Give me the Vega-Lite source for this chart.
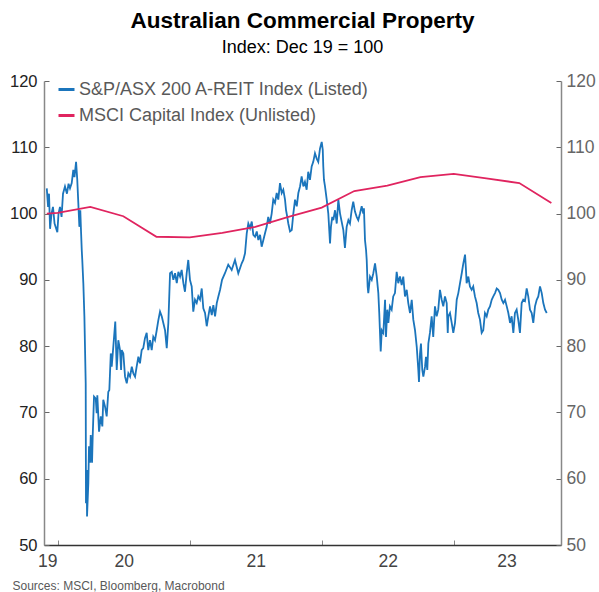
{
  "$schema": "https://vega.github.io/schema/vega-lite/v6.json",
  "width": 517,
  "height": 464,
  "autosize": {"type": "none"},
  "padding": {"left": 44, "top": 81, "right": 38, "bottom": 47},
  "config": {"font": "Liberation Sans", "view": {"stroke": null}},
  "title": {
    "text": "Australian Commercial Property",
    "subtitle": "Index: Dec 19 = 100",
    "fontSize": 22.5,
    "fontWeight": "bold",
    "color": "#000000",
    "subtitleFontSize": 18,
    "subtitleColor": "#000000",
    "subtitlePadding": 7,
    "anchor": "middle",
    "offset": 15
  },
  "datasets": {
    "listed": [
      {"t":2019.917,"v":103.8},{"t":2019.927,"v":101.0},{"t":2019.934,"v":103.0},{"t":2019.942,"v":97.7},{"t":2019.953,"v":100.0},{"t":2019.964,"v":101.0},{"t":2019.976,"v":98.5},{"t":2019.997,"v":97.2},{"t":2020.006,"v":100.0},{"t":2020.017,"v":101.0},{"t":2020.029,"v":99.5},{"t":2020.040,"v":103.0},{"t":2020.055,"v":104.1},{"t":2020.070,"v":103.0},{"t":2020.082,"v":104.5},{"t":2020.093,"v":103.8},{"t":2020.106,"v":104.6},{"t":2020.118,"v":106.6},{"t":2020.127,"v":105.5},{"t":2020.139,"v":107.8},{"t":2020.148,"v":105.1},{"t":2020.156,"v":101.6},{"t":2020.164,"v":98.0},{"t":2020.171,"v":100.5},{"t":2020.177,"v":97.1},{"t":2020.182,"v":94.5},{"t":2020.186,"v":93.0},{"t":2020.194,"v":89.5},{"t":2020.202,"v":84.5},{"t":2020.212,"v":74.4},{"t":2020.214,"v":56.3},{"t":2020.220,"v":61.3},{"t":2020.222,"v":54.3},{"t":2020.232,"v":59.4},{"t":2020.237,"v":64.9},{"t":2020.245,"v":62.4},{"t":2020.250,"v":66.6},{"t":2020.260,"v":62.4},{"t":2020.265,"v":66.4},{"t":2020.275,"v":72.4},{"t":2020.288,"v":72.1},{"t":2020.295,"v":69.9},{"t":2020.300,"v":72.6},{"t":2020.313,"v":67.1},{"t":2020.326,"v":69.4},{"t":2020.338,"v":67.9},{"t":2020.345,"v":71.9},{"t":2020.358,"v":70.9},{"t":2020.371,"v":69.4},{"t":2020.383,"v":73.1},{"t":2020.391,"v":73.4},{"t":2020.402,"v":78.9},{"t":2020.409,"v":76.9},{"t":2020.421,"v":79.9},{"t":2020.436,"v":83.7},{"t":2020.447,"v":76.4},{"t":2020.459,"v":80.9},{"t":2020.472,"v":79.4},{"t":2020.480,"v":76.4},{"t":2020.485,"v":79.4},{"t":2020.497,"v":78.9},{"t":2020.510,"v":75.4},{"t":2020.523,"v":74.4},{"t":2020.535,"v":75.9},{"t":2020.548,"v":75.4},{"t":2020.561,"v":76.9},{"t":2020.573,"v":75.9},{"t":2020.586,"v":75.4},{"t":2020.598,"v":76.9},{"t":2020.611,"v":78.4},{"t":2020.623,"v":77.4},{"t":2020.636,"v":79.4},{"t":2020.648,"v":79.7},{"t":2020.661,"v":81.2},{"t":2020.674,"v":82.0},{"t":2020.686,"v":79.4},{"t":2020.699,"v":80.9},{"t":2020.712,"v":79.4},{"t":2020.724,"v":81.4},{"t":2020.737,"v":80.9},{"t":2020.750,"v":82.4},{"t":2020.762,"v":83.9},{"t":2020.775,"v":85.2},{"t":2020.788,"v":84.5},{"t":2020.800,"v":83.5},{"t":2020.813,"v":82.4},{"t":2020.826,"v":79.7},{"t":2020.838,"v":83.5},{"t":2020.851,"v":91.0},{"t":2020.864,"v":91.2},{"t":2020.876,"v":90.0},{"t":2020.889,"v":91.0},{"t":2020.902,"v":89.5},{"t":2020.914,"v":91.2},{"t":2020.927,"v":90.5},{"t":2020.939,"v":91.5},{"t":2020.952,"v":89.5},{"t":2020.964,"v":88.2},{"t":2020.977,"v":91.0},{"t":2020.989,"v":93.0},{"t":2021.002,"v":90.0},{"t":2021.015,"v":89.0},{"t":2021.027,"v":85.2},{"t":2021.040,"v":87.0},{"t":2021.053,"v":86.5},{"t":2021.065,"v":87.5},{"t":2021.078,"v":87.0},{"t":2021.091,"v":88.7},{"t":2021.103,"v":85.7},{"t":2021.116,"v":85.0},{"t":2021.129,"v":83.0},{"t":2021.141,"v":84.5},{"t":2021.154,"v":86.0},{"t":2021.167,"v":84.7},{"t":2021.179,"v":86.2},{"t":2021.192,"v":84.5},{"t":2021.205,"v":86.5},{"t":2021.217,"v":87.5},{"t":2021.230,"v":88.5},{"t":2021.245,"v":90.0},{"t":2021.267,"v":91.0},{"t":2021.292,"v":92.3},{"t":2021.318,"v":91.5},{"t":2021.343,"v":93.0},{"t":2021.368,"v":91.0},{"t":2021.394,"v":92.5},{"t":2021.406,"v":93.0},{"t":2021.419,"v":94.0},{"t":2021.432,"v":97.0},{"t":2021.444,"v":98.5},{"t":2021.457,"v":97.8},{"t":2021.470,"v":98.8},{"t":2021.482,"v":96.8},{"t":2021.495,"v":96.5},{"t":2021.508,"v":97.3},{"t":2021.520,"v":96.0},{"t":2021.533,"v":96.8},{"t":2021.545,"v":95.0},{"t":2021.558,"v":96.0},{"t":2021.570,"v":97.0},{"t":2021.583,"v":98.0},{"t":2021.595,"v":99.5},{"t":2021.608,"v":98.5},{"t":2021.621,"v":100.0},{"t":2021.633,"v":102.1},{"t":2021.646,"v":101.6},{"t":2021.659,"v":103.1},{"t":2021.671,"v":102.1},{"t":2021.684,"v":104.6},{"t":2021.697,"v":103.1},{"t":2021.709,"v":103.6},{"t":2021.722,"v":102.1},{"t":2021.730,"v":100.5},{"t":2021.739,"v":99.5},{"t":2021.747,"v":98.5},{"t":2021.760,"v":97.3},{"t":2021.773,"v":97.5},{"t":2021.785,"v":100.0},{"t":2021.798,"v":102.1},{"t":2021.811,"v":101.1},{"t":2021.823,"v":103.1},{"t":2021.836,"v":104.1},{"t":2021.848,"v":105.6},{"t":2021.861,"v":104.1},{"t":2021.873,"v":104.8},{"t":2021.886,"v":103.6},{"t":2021.898,"v":106.3},{"t":2021.911,"v":105.1},{"t":2021.924,"v":107.1},{"t":2021.936,"v":107.8},{"t":2021.949,"v":109.1},{"t":2021.962,"v":108.3},{"t":2021.974,"v":107.8},{"t":2021.987,"v":109.8},{"t":2022.000,"v":110.8},{"t":2022.008,"v":109.6},{"t":2022.012,"v":107.1},{"t":2022.017,"v":105.1},{"t":2022.025,"v":104.1},{"t":2022.038,"v":102.1},{"t":2022.050,"v":100.0},{"t":2022.063,"v":95.5},{"t":2022.070,"v":98.0},{"t":2022.080,"v":99.5},{"t":2022.088,"v":99.0},{"t":2022.101,"v":100.5},{"t":2022.114,"v":98.5},{"t":2022.126,"v":102.1},{"t":2022.139,"v":100.0},{"t":2022.164,"v":97.5},{"t":2022.176,"v":94.8},{"t":2022.189,"v":98.0},{"t":2022.202,"v":99.0},{"t":2022.214,"v":98.5},{"t":2022.227,"v":100.5},{"t":2022.239,"v":101.8},{"t":2022.252,"v":100.3},{"t":2022.265,"v":99.5},{"t":2022.277,"v":99.0},{"t":2022.290,"v":100.0},{"t":2022.303,"v":101.1},{"t":2022.315,"v":100.0},{"t":2022.320,"v":100.8},{"t":2022.328,"v":96.0},{"t":2022.336,"v":94.5},{"t":2022.341,"v":93.0},{"t":2022.348,"v":89.0},{"t":2022.353,"v":88.0},{"t":2022.366,"v":90.5},{"t":2022.379,"v":90.0},{"t":2022.391,"v":91.0},{"t":2022.404,"v":92.5},{"t":2022.417,"v":90.5},{"t":2022.429,"v":88.0},{"t":2022.436,"v":85.0},{"t":2022.447,"v":79.2},{"t":2022.455,"v":82.4},{"t":2022.467,"v":82.0},{"t":2022.480,"v":87.0},{"t":2022.487,"v":81.4},{"t":2022.497,"v":85.5},{"t":2022.505,"v":83.5},{"t":2022.517,"v":86.0},{"t":2022.530,"v":85.5},{"t":2022.542,"v":87.5},{"t":2022.555,"v":88.0},{"t":2022.568,"v":91.2},{"t":2022.580,"v":89.5},{"t":2022.593,"v":90.5},{"t":2022.606,"v":89.2},{"t":2022.618,"v":90.5},{"t":2022.631,"v":87.5},{"t":2022.644,"v":88.5},{"t":2022.656,"v":86.5},{"t":2022.669,"v":85.0},{"t":2022.682,"v":87.0},{"t":2022.694,"v":84.0},{"t":2022.707,"v":82.4},{"t":2022.720,"v":79.9},{"t":2022.732,"v":76.4},{"t":2022.737,"v":74.6},{"t":2022.745,"v":78.9},{"t":2022.752,"v":80.4},{"t":2022.762,"v":76.4},{"t":2022.770,"v":75.4},{"t":2022.783,"v":76.9},{"t":2022.790,"v":78.4},{"t":2022.800,"v":76.4},{"t":2022.808,"v":80.4},{"t":2022.820,"v":82.0},{"t":2022.833,"v":84.5},{"t":2022.845,"v":81.4},{"t":2022.858,"v":86.0},{"t":2022.871,"v":84.5},{"t":2022.883,"v":85.5},{"t":2022.896,"v":88.5},{"t":2022.909,"v":87.0},{"t":2022.921,"v":86.0},{"t":2022.934,"v":87.5},{"t":2022.947,"v":86.5},{"t":2022.955,"v":82.0},{"t":2022.959,"v":84.5},{"t":2022.972,"v":85.0},{"t":2022.985,"v":83.5},{"t":2022.997,"v":82.0},{"t":2023.010,"v":83.5},{"t":2023.023,"v":87.0},{"t":2023.035,"v":88.0},{"t":2023.048,"v":89.5},{"t":2023.061,"v":91.0},{"t":2023.073,"v":92.5},{"t":2023.086,"v":93.8},{"t":2023.093,"v":91.5},{"t":2023.098,"v":89.5},{"t":2023.111,"v":90.5},{"t":2023.123,"v":89.0},{"t":2023.136,"v":88.5},{"t":2023.148,"v":89.0},{"t":2023.161,"v":87.5},{"t":2023.174,"v":86.5},{"t":2023.186,"v":85.0},{"t":2023.199,"v":84.0},{"t":2023.212,"v":82.0},{"t":2023.224,"v":82.4},{"t":2023.237,"v":85.0},{"t":2023.250,"v":84.5},{"t":2023.262,"v":85.5},{"t":2023.275,"v":86.0},{"t":2023.288,"v":87.0},{"t":2023.300,"v":87.5},{"t":2023.313,"v":88.0},{"t":2023.326,"v":88.7},{"t":2023.338,"v":88.5},{"t":2023.351,"v":88.0},{"t":2023.364,"v":87.0},{"t":2023.376,"v":86.5},{"t":2023.389,"v":87.0},{"t":2023.402,"v":86.0},{"t":2023.414,"v":85.0},{"t":2023.427,"v":83.5},{"t":2023.439,"v":84.5},{"t":2023.452,"v":82.0},{"t":2023.464,"v":85.0},{"t":2023.477,"v":85.5},{"t":2023.489,"v":84.0},{"t":2023.502,"v":82.0},{"t":2023.515,"v":86.5},{"t":2023.527,"v":87.0},{"t":2023.540,"v":86.8},{"t":2023.553,"v":88.7},{"t":2023.565,"v":87.5},{"t":2023.578,"v":85.5},{"t":2023.591,"v":85.0},{"t":2023.603,"v":83.5},{"t":2023.616,"v":86.0},{"t":2023.629,"v":87.0},{"t":2023.641,"v":87.5},{"t":2023.654,"v":89.0},{"t":2023.667,"v":88.0},{"t":2023.679,"v":86.5},{"t":2023.692,"v":85.5},{"t":2023.705,"v":85.0}
    ],
    "unlisted": [
      {"t":2019.917,"v":100.0},{"t":2020.0,"v":100.1},{"t":2020.247,"v":101.0},{"t":2020.497,"v":99.6},{"t":2020.748,"v":96.5},{"t":2021.0,"v":96.4},{"t":2021.247,"v":97.1},{"t":2021.497,"v":98.0},{"t":2021.748,"v":99.5},{"t":2022.0,"v":100.9},{"t":2022.247,"v":103.4},{"t":2022.497,"v":104.2},{"t":2022.748,"v":105.5},{"t":2023.0,"v":106.0},{"t":2023.247,"v":105.3},{"t":2023.497,"v":104.6},{"t":2023.74,"v":101.6}
    ]
  },
  "layer": [
    {
      "data": {"name": "listed"},
      "mark": {"type": "line", "strokeWidth": 1.8, "clip": true},
      "encoding": {
        "x": {
          "field": "t", "type": "quantitative",
          "scale": {"domain": [2019.896, 2023.813], "nice": false, "zero": false},
          "axis": {
            "orient": "bottom", "values": [2020, 2021, 2022, 2023],
            "labels": false, "title": null, "grid": false,
            "ticks": true, "tickSize": -5, "tickColor": "#888888", "tickWidth": 1,
            "domain": true, "domainColor": "#333333", "domainWidth": 1.5
          }
        },
        "y": {
          "field": "v", "type": "quantitative",
          "scale": {"domain": [50, 120], "nice": false, "zero": false},
          "axis": {
            "orient": "left", "values": [50, 60, 70, 80, 90, 100, 110, 120],
            "title": null, "grid": false,
            "domainColor": "#888888", "domainWidth": 1.5,
            "tickSize": -5, "tickColor": "#666666", "tickWidth": 1,
            "labelFontSize": 16.5, "labelColor": "#222222", "labelPadding": 12
          }
        },
        "color": {
          "datum": "S&P/ASX 200 A-REIT Index (Listed)",
          "type": "nominal",
          "scale": {"domain": ["S&P/ASX 200 A-REIT Index (Listed)", "MSCI Capital Index (Unlisted)"], "range": ["#1b75bc", "#e0245f"]},
          "legend": {
            "orient": "none", "legendX": 13, "legendY": -1,
            "title": null, "symbolType": "stroke", "symbolSize": 256, "symbolStrokeWidth": 3,
            "labelFontSize": 18, "labelColor": "#595959", "labelLimit": 450,
            "rowPadding": 7, "labelOffset": 3, "padding": 0
          }
        }
      }
    },
    {
      "data": {"name": "unlisted"},
      "mark": {"type": "line", "strokeWidth": 1.8, "clip": true},
      "encoding": {
        "x": {
          "field": "t", "type": "quantitative",
          "axis": {
            "orient": "bottom", "values": [2019.92, 2020.5, 2021.5, 2022.5, 2023.4],
            "labelExpr": "format(floor(datum.value) % 100, '02d')",
            "labelOverlap": false, "labelFlush": false, "ticks": false, "domain": false, "grid": false,
            "labelFontSize": 17.5, "labelColor": "#444444", "labelPadding": 7,
            "title": "Sources: MSCI, Bloomberg, Macrobond",
            "titleFontSize": 12, "titleFontWeight": "normal", "titleColor": "#595959",
            "titleAnchor": "start", "titleAlign": "left", "titleX": -32, "titleY": 35
          }
        },
        "y": {
          "field": "v", "type": "quantitative",
          "axis": {
            "orient": "right", "values": [50, 60, 70, 80, 90, 100, 110, 120],
            "title": null, "grid": false,
            "domainColor": "#888888", "domainWidth": 1.5,
            "tickSize": -5, "tickColor": "#666666", "tickWidth": 1,
            "labelFontSize": 17.5, "labelColor": "#666666", "labelPadding": 10
          }
        },
        "color": {
          "datum": "MSCI Capital Index (Unlisted)",
          "type": "nominal"
        }
      }
    }
  ],
  "resolve": {"axis": {"x": "independent", "y": "independent"}}
}
